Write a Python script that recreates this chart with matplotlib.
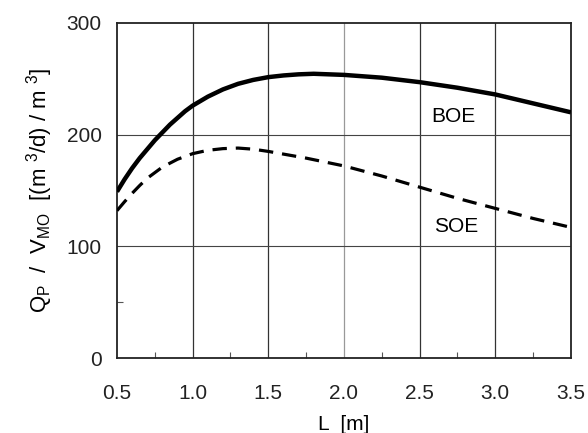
import matplotlib
matplotlib.use('Agg')
import matplotlib.pyplot as plt
from matplotlib.ticker import MultipleLocator, FixedLocator

plt.rcParams['font.family'] = ['Liberation Sans', 'DejaVu Sans']

# values
L_boe = [0.5, 0.55, 0.6, 0.65, 0.7, 0.75, 0.8, 0.85, 0.9, 0.95, 1.0, 1.1, 1.2, 1.3, 1.4,
         1.5, 1.6, 1.7, 1.8, 1.9, 2.0, 2.25, 2.5, 2.75, 3.0, 3.25, 3.5]
boe = [149, 160, 170, 179, 187, 195, 202, 209, 215, 221, 226, 234, 240.5, 245.5, 249,
       251.5, 253, 254, 254.5, 254, 253.5, 251, 247, 242, 236, 228, 220]

L_soe = [0.5, 0.55, 0.6, 0.65, 0.7, 0.75, 0.8, 0.9, 1.0, 1.1, 1.2, 1.3, 1.4, 1.5,
         1.75, 2.0, 2.25, 2.5, 2.75, 3.0, 3.25, 3.5]
soe = [132, 140, 147.5, 154.5, 161, 166, 171, 178, 183, 186, 187.5, 188, 187, 185,
       179, 172, 163, 153, 143, 134, 125, 117]

x_ticks = [0.5, 1.0, 1.5, 2.0, 2.5, 3.0, 3.5]
y_ticks = [0, 100, 200, 300]

fig = plt.figure(figsize=(5.88, 4.33), dpi=100)
ax = fig.add_axes([0.199, 0.173, 0.772, 0.774])

# grid lines
for x in x_ticks[1:-1]:
    ax.axvline(x, color='#999999' if x == 2.0 else '#333333', lw=0.9, zorder=1)
for y in y_ticks[1:-1]:
    ax.axhline(y, color='#444444', lw=0.8, zorder=1)

ax.plot(L_boe, boe, color='black', lw=3.2, solid_capstyle='butt', zorder=3)
ax.plot(L_soe, soe, color='black', lw=2.3, dashes=(4.5, 2.8), zorder=3)

ax.text(2.72, 216, 'BOE', fontsize=15, ha='center', va='center')
ax.text(2.74, 118, 'SOE', fontsize=15, ha='center', va='center')

ax.set_xlim(0.5, 3.5)
ax.set_ylim(0, 300)
ax.set_xticks(x_ticks)
ax.set_xticklabels([f'{v:.1f}' for v in x_ticks])
ax.set_yticks(y_ticks)
ax.xaxis.set_minor_locator(MultipleLocator(0.25))
ax.yaxis.set_minor_locator(FixedLocator([50]))
ax.tick_params(which='major', direction='in', length=0, labelsize=15, colors='#222222')
ax.tick_params(axis='x', which='major', pad=19)
ax.tick_params(axis='y', which='major', pad=11)
ax.tick_params(which='minor', direction='in', length=4, width=0.8, color='#555555')
for s in ax.spines.values():
    s.set_linewidth(1.3)
    s.set_color('#222222')

ax.set_xlabel('L  [m]', fontsize=15, labelpad=8)
ax.set_ylabel(r'Q$_\mathregular{P}$  /  V$_\mathregular{MO}$  [(m $^\mathregular{3}$/d) / m $^\mathregular{3}$]',
              fontsize=16, labelpad=8)

fig.savefig('out.png', dpi=100)
